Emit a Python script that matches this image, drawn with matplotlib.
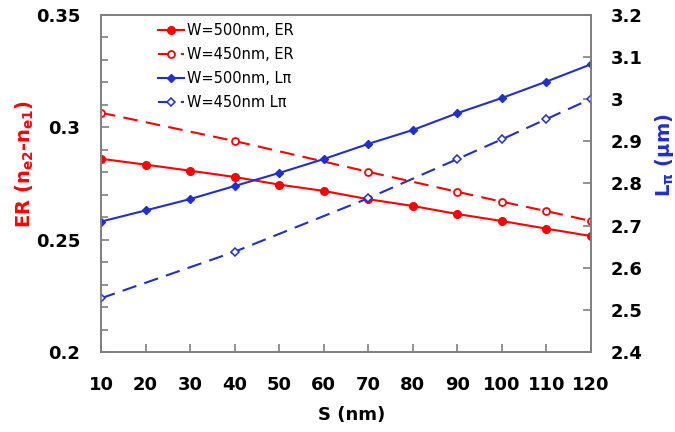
import matplotlib
matplotlib.use("Agg")
import matplotlib.pyplot as plt
from matplotlib.ticker import MultipleLocator

plt.rcParams['font.family'] = ['DejaVu Sans']
plt.rcParams['mathtext.fontset'] = 'dejavusans'

s_500 = [10, 20, 30, 40, 50, 60, 70, 80, 90, 100, 110, 120]
er_500 = [0.286, 0.2834, 0.2807, 0.2779, 0.2745, 0.2717, 0.2680, 0.2650, 0.2614, 0.2583, 0.2549, 0.2516]
s_450 = [10, 40, 70, 90, 100, 110, 120]
er_450 = [0.3065, 0.2939, 0.2802, 0.2713, 0.2669, 0.2627, 0.2583]
lpi_500 = [2.7095, 2.736, 2.763, 2.794, 2.825, 2.858, 2.894, 2.927, 2.967, 3.003, 3.042, 3.083]
lpi_450 = [2.5275, 2.638, 2.765, 2.858, 2.905, 2.953, 3.001]

xticks = [10, 20, 30, 40, 50, 60, 70, 80, 90, 100, 110, 120]

red = '#ff0000'
blue = '#1f2fd0'
gray = '#7f7f7f'

fig = plt.figure(figsize=(6.75, 4.32), dpi=100)
ax = fig.add_axes([0.1496, 0.1852, 0.7260, 0.7801])
ax2 = ax.twinx()

l1, = ax.plot(s_500, er_500, '-', color=red, lw=1.5, marker='o', ms=5.5,
              mfc=red, mec=red, label='W=500nm, ER')
l2, = ax.plot(s_450, er_450, '--', color=red, lw=1.5, dashes=(7, 4), marker='o', ms=5,
              mfc='white', mec=red, mew=1.3, label='W=450nm, ER')
l3, = ax2.plot(s_500, lpi_500, '-', color=blue, lw=1.5, marker='D', ms=3.8,
               mfc=blue, mec=blue, label='W=500nm, L\u03c0')
l4, = ax2.plot(s_450, lpi_450, '--', color=blue, lw=1.5, dashes=(7, 4), marker='D', ms=3.8,
               mfc='white', mec=blue, mew=1.1, label='W=450nm L\u03c0')

ax.set_xlim(10, 120)
ax.set_ylim(0.2, 0.35)
ax2.set_ylim(2.4, 3.2)
ax.set_xticks(xticks)
ax.set_yticks([0.2, 0.25, 0.3, 0.35])
ax.set_yticklabels(['0.2', '0.25', '0.3', '0.35'])
ax.yaxis.set_minor_locator(MultipleLocator(0.01))
ax2.set_yticks([2.4, 2.5, 2.6, 2.7, 2.8, 2.9, 3.0, 3.1, 3.2])
ax2.set_yticklabels(['2.4', '2.5', '2.6', '2.7', '2.8', '2.9', '3', '3.1', '3.2'])

for a in (ax, ax2):
    for sp in a.spines.values():
        sp.set_color(gray)
        sp.set_linewidth(1.2)
ax.tick_params(axis='both', which='both', direction='in', color=gray, width=1.2)
ax.tick_params(axis='x', which='major', length=6, labelsize=13, pad=17)
ax.tick_params(axis='y', which='major', length=6, labelsize=13, pad=15)
ax.tick_params(axis='y', which='minor', length=5)
ax.tick_params(axis='x', which='minor', bottom=False)
ax2.tick_params(axis='y', which='both', direction='in', color=gray, width=1.2,
                length=6, labelsize=13, pad=14)
for lab in ax.get_xticklabels() + ax.get_yticklabels() + ax2.get_yticklabels():
    lab.set_fontweight('bold')

fig.text(352 / 675, 1 - 415 / 432, 'S (nm)', fontsize=13, fontweight='bold',
         ha='center', va='center')
fig.text(25 / 675, 1 - 164 / 432, r'ER (n$_{\mathbf{e2}}$-n$_{\mathbf{e1}}$)', fontsize=14,
         fontweight='bold', color=red, rotation=90, ha='center', va='center')
fig.text(664 / 675, 1 - 155 / 432, 'L$_{\\mathbf{\\pi}}$ (\u03bcm)', fontsize=14,
         fontweight='bold', color=blue, rotation=90, ha='center', va='center')

leg = ax.legend(handles=[l1, l2, l3, l4], loc='upper left', bbox_to_anchor=(0.096, 1.007),
                frameon=False, fontsize=10.5, handlelength=1.8, handletextpad=0.2,
                labelspacing=0.62, borderaxespad=0.3)

fig.savefig('out.png', dpi=100)
